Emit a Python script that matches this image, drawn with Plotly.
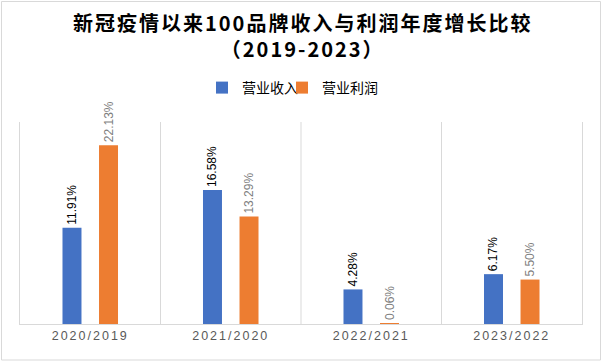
import plotly.graph_objects as go

categories = ["2020/2019", "2021/2020", "2022/2021", "2023/2022"]
revenue_growth = [11.91, 16.58, 4.28, 6.17]
profit_growth = [22.13, 13.29, 0.06, 5.50]
series_names = ["营业收入", "营业利润"]
title_lines = ["新冠疫情以来100品牌收入与利润年度增长比较", "（2019-2023）"]

W, H = 602, 362
L, R, T, B = 20, 20, 122, 38
pw, ph = W - L - R, H - T - B

cjk = "Noto Sans CJK SC"
lat = "Liberation Sans, Arial"


def py(px):
    """pixel y from top of figure -> paper y"""
    return (H - B - px) / ph


def pxx(px):
    return (px - L) / pw


fig = go.Figure()
fig.add_trace(go.Bar(
    x=categories, y=revenue_growth, name=series_names[0], legend="legend",
    marker=dict(color="#4472C4", line=dict(width=0)),
    text=[f"{v:.2f}%" for v in revenue_growth],
    textposition="outside", textangle=-90, constraintext="none",
    textfont=dict(family=lat, size=12, color="#000000"),
    cliponaxis=False,
))
fig.add_trace(go.Bar(
    x=categories, y=profit_growth, name=series_names[1], legend="legend2",
    marker=dict(color="#ED7D31", line=dict(width=0)),
    text=[f"{v:.2f}%" for v in profit_growth],
    textposition="outside", textangle=-90, constraintext="none",
    textfont=dict(family=lat, size=12, color="#7F7F7F"),
    cliponaxis=False,
))

shapes = []
for i in range(len(categories) - 1):
    shapes.append(dict(type="line", xref="x", yref="paper",
                       x0=i + 0.5, x1=i + 0.5, y0=0, y1=1,
                       line=dict(color="#D9D9D9", width=1)))
shapes.append(dict(type="rect", xref="paper", yref="paper",
                   x0=pxx(1.5), x1=pxx(600.5),
                   y0=py(360), y1=py(1.5),
                   line=dict(color="#D9D9D9", width=1), fillcolor="rgba(0,0,0,0)",
                   layer="below"))

annotations = [
    dict(text="<br>".join(title_lines), xref="paper", yref="paper", x=pxx(302), y=py(35.5),
         xanchor="center", yanchor="middle", showarrow=False, align="center",
         font=dict(family=cjk, size=20, color="#000000", weight="bold")),
]

leg_common = dict(orientation="h", xanchor="left", yanchor="middle",
                  font=dict(family=cjk, size=14, color="#000000"),
                  itemwidth=30, bgcolor="rgba(0,0,0,0)")

fig.update_layout(
    width=W, height=H,
    margin=dict(l=L, r=R, t=T, b=B),
    paper_bgcolor="white", plot_bgcolor="white",
    barmode="group", bargap=0.48, bargroupgap=0.48,
    annotations=annotations,
    legend=dict(x=pxx(202), y=py(88), **leg_common),
    legend2=dict(x=pxx(282), y=py(88), **leg_common),
    xaxis=dict(type="category", range=[-0.5, 3.5], showgrid=False,
               showline=True, linecolor="#D9D9D9", linewidth=1, mirror=False,
               ticks="", tickfont=dict(family=lat, size=12.5, color="#595959")),
    yaxis=dict(range=[0, 25], showgrid=False, showticklabels=False, zeroline=False,
               showline=True, linecolor="#D9D9D9", linewidth=1, mirror=True, ticks=""),
    shapes=shapes,
    showlegend=True,
)

post = """
document.body.style.margin='0';
document.body.style.padding='0';
function ls(){
  document.querySelectorAll('.xtick text').forEach(function(t){t.style.letterSpacing='2px';});
  document.querySelectorAll('.annotation-text').forEach(function(t){t.style.letterSpacing='2px';});
}
ls();
var gd=document.getElementsByClassName('plotly-graph-div')[0];
if(gd&&gd.on){gd.on('plotly_afterplot',ls);}
"""

fig.write_html("out.html", post_script=post, config={"displayModeBar": False})
